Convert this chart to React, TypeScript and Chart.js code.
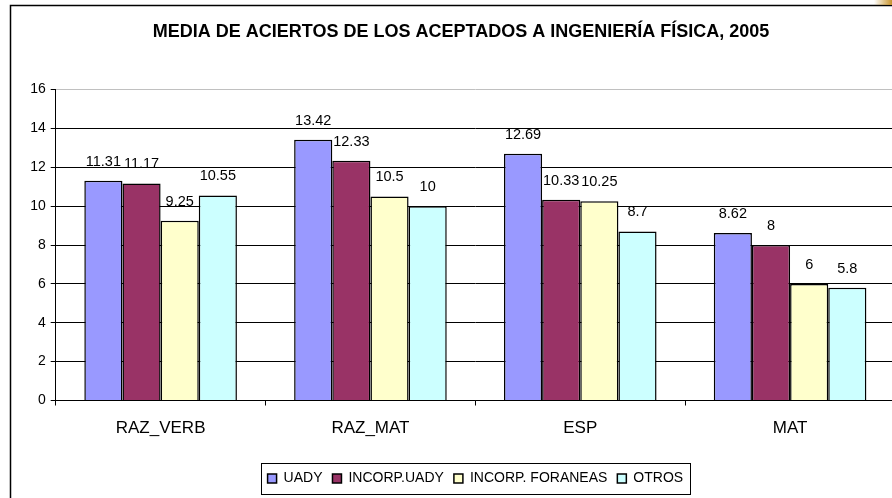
import React, { useEffect, useRef } from 'react';
import { Chart, registerables } from 'chart.js';

Chart.register(...registerables);

const titleText = 'MEDIA DE ACIERTOS DE LOS ACEPTADOS A INGENIERÍA FÍSICA, 2005';
const categories = ['RAZ_VERB', 'RAZ_MAT', 'ESP', 'MAT'];
const seriesNames = ['UADY', 'INCORP.UADY', 'INCORP. FORANEAS', 'OTROS'];
const uady = [11.31, 13.42, 12.69, 8.62];
const incorpUady = [11.17, 12.33, 10.33, 8];
const incorpForaneas = [9.25, 10.5, 10.25, 6];
const otros = [10.55, 10, 8.7, 5.8];
const seriesColors = ['#9999FF', '#993366', '#FFFFCC', '#CCFFFF'];
const yMin = 0;
const yMax = 16;
const yStep = 2;

const FONT = '"Liberation Sans", Arial, sans-serif';

const framePlugin = {
  id: 'frame',
  beforeDraw(chart: any) {
    const ctx = chart.ctx;
    ctx.save();
    ctx.fillStyle = '#ffffff';
    ctx.fillRect(0, 0, chart.width, chart.height);
    ctx.strokeStyle = '#000000';
    ctx.lineWidth = 1.5;
    ctx.strokeRect(10.5, 5.5, 902, 600);
    ctx.restore();
  },
};

const valueLabelPlugin = {
  id: 'valueLabels',
  afterDatasetsDraw(chart: any) {
    const ctx = chart.ctx;
    ctx.save();
    ctx.font = `14.5px ${FONT}`;
    ctx.fillStyle = '#000000';
    ctx.textAlign = 'center';
    ctx.textBaseline = 'alphabetic';
    chart.data.datasets.forEach((ds: any, i: number) => {
      const meta = chart.getDatasetMeta(i);
      meta.data.forEach((bar: any, j: number) => {
        ctx.fillText(String(ds.data[j]), bar.x, bar.y - 15);
      });
    });
    ctx.restore();
  },
};

const legendBoxPlugin = {
  id: 'legendBox',
  afterDraw(chart: any) {
    const lg = chart.legend;
    if (!lg || !lg.legendHitBoxes || !lg.legendHitBoxes.length) return;
    const boxes = lg.legendHitBoxes;
    const first = boxes[0];
    const last = boxes[boxes.length - 1];
    const cy = first.top + first.height / 2;
    const x0 = Math.round(first.left - 7) + 0.5;
    const x1 = Math.round(last.left + last.width + 7) + 0.5;
    const y0 = Math.round(cy - 15.5) + 0.5;
    const y1 = Math.round(cy + 15.5) + 0.5;
    const ctx = chart.ctx;
    ctx.save();
    ctx.strokeStyle = '#000000';
    ctx.lineWidth = 1;
    ctx.strokeRect(x0, y0, x1 - x0, y1 - y0);
    ctx.restore();
  },
};

export default function App() {
  const canvasRef = useRef<HTMLCanvasElement | null>(null);

  useEffect(() => {
    document.body.style.margin = '0';
    const canvas = canvasRef.current;
    if (!canvas) return;
    const seriesData = [uady, incorpUady, incorpForaneas, otros];
    const chart = new Chart(canvas, {
      type: 'bar',
      data: {
        labels: categories,
        datasets: seriesNames.map((name, i) => ({
          label: name,
          data: seriesData[i],
          backgroundColor: seriesColors[i],
          borderColor: '#000000',
          borderWidth: 1.5,
          categoryPercentage: 4 / 5.5,
          barPercentage: 1,
        })),
      },
      options: {
        responsive: false,
        animation: false,
        devicePixelRatio: 1,
        layout: { padding: { left: 10, right: 18, top: 0, bottom: 2.5 } },
        plugins: {
          title: {
            display: true,
            text: titleText,
            color: '#000000',
            font: { family: FONT, size: 18, weight: 'bold' },
            padding: { top: 21.2, bottom: 46.7 },
          },
          legend: {
            display: true,
            position: 'bottom',
            fullSize: false,
            labels: {
              color: '#000000',
              font: { family: FONT, size: 14 },
              boxWidth: 9,
              boxHeight: 9,
              padding: 10,
            },
          },
          tooltip: { enabled: false },
        },
        scales: {
          x: {
            type: 'category',
            offset: true,
            grid: {
              display: true,
              offset: true,
              drawOnChartArea: false,
              drawTicks: true,
              tickLength: 5,
              color: '#000000',
            },
            border: { display: true, color: '#000000', width: 1 },
            ticks: {
              color: '#000000',
              font: { family: FONT, size: 17 },
              padding: 13,
              maxRotation: 0,
              autoSkip: false,
            },
            afterFit: (s: any) => {
              s.height = 61;
            },
          },
          y: {
            min: yMin,
            max: yMax,
            grid: {
              color: (c: any) => (c.tick && c.tick.value === yMax ? '#c0c0c0' : '#000000'),
              tickColor: '#000000',
              tickLength: 5,
              lineWidth: 1,
            },
            border: { display: true, color: '#000000', width: 1 },
            ticks: {
              stepSize: yStep,
              color: '#000000',
              font: { family: FONT, size: 14 },
              padding: 5,
            },
            afterFit: (s: any) => {
              s.width = 45.7;
            },
          },
          yRight: {
            position: 'right',
            display: true,
            min: yMin,
            max: yMax,
            grid: { display: false },
            border: { display: false },
            ticks: { display: false },
            afterFit: (s: any) => {
              s.width = 17;
            },
          },
        },
      },
      plugins: [framePlugin, valueLabelPlugin, legendBoxPlugin],
    } as any);
    return () => {
      chart.destroy();
    };
  }, []);

  return (
    <div style={{ position: 'relative', width: 892, height: 498, overflow: 'hidden', background: '#fff' }}>
      <canvas ref={canvasRef} width={930} height={498} style={{ display: 'block', width: 930, height: 498 }} />
      <div
        style={{
          position: 'absolute',
          right: 0,
          top: 0,
          width: 18,
          height: 5,
          background: 'linear-gradient(to right, rgba(255,255,255,0), #c8942c)',
        }}
      />
    </div>
  );
}
